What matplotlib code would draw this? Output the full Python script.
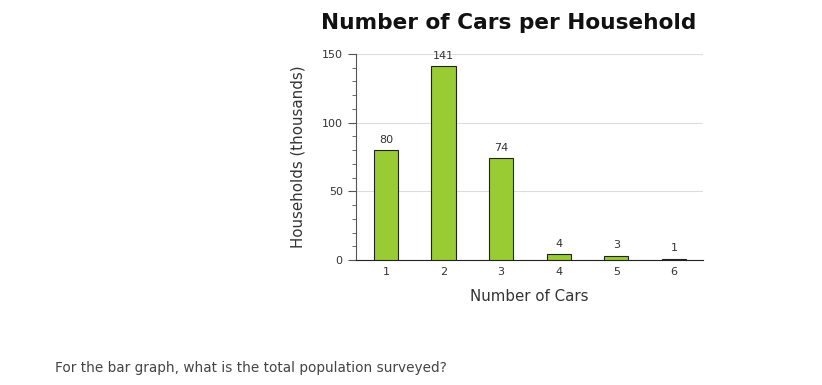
import matplotlib.pyplot as plt
from matplotlib.ticker import MultipleLocator

cars = [1, 2, 3, 4, 5, 6]
households = [80, 141, 74, 4, 3, 1]

fig = plt.figure(figsize=(8.22, 3.85), dpi=100)
ax = fig.add_axes([0.433, 0.3247, 0.422, 0.535])

ax.bar(cars, households, width=0.42, color='#99cc33', edgecolor='#222222', linewidth=0.8, zorder=3)
for x, v in zip(cars, households):
    ax.text(x, v + 4, str(v), ha='center', va='bottom', fontsize=8, color='#333333')

ax.set_xlim(0.48, 6.5)
ax.set_ylim(0, 150)
ax.set_xticks(cars)
ax.set_yticks([0, 50, 100, 150])
ax.yaxis.set_minor_locator(MultipleLocator(10))
ax.tick_params(axis='x', length=0, labelsize=8, labelcolor='#333333', pad=5)
ax.tick_params(axis='y', which='major', length=6, labelsize=8, labelcolor='#333333', color='#555555')
ax.tick_params(axis='y', which='minor', length=3, color='#555555')
ax.grid(axis='y', color='#dddddd', linewidth=0.8, zorder=0)
ax.spines['top'].set_visible(False)
ax.spines['right'].set_visible(False)
ax.spines['left'].set_color('#555555')
ax.spines['bottom'].set_color('#222222')

ax.set_xlabel('Number of Cars', fontsize=10.8, color='#333333', labelpad=9)
ax.set_ylabel('Households (thousands)', fontsize=10.8, color='#333333', labelpad=12)
fig.text(0.619, 0.94, 'Number of Cars per Household', ha='center', va='center',
         fontsize=15.6, fontweight='bold', color='#111111')
fig.text(0.067, 0.045, 'For the bar graph, what is the total population surveyed?',
         ha='left', va='center', fontsize=9.8, color='#444444')

fig.savefig('out.png', dpi=100)
